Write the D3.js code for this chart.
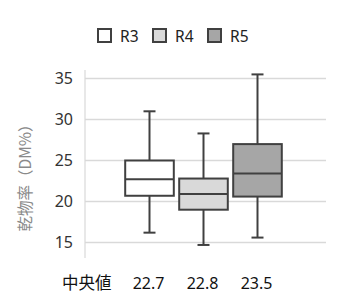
<!DOCTYPE html>
<html>
<head>
<meta charset="utf-8">
<script src="https://cdn.jsdelivr.net/npm/d3@7"></script>
<style>
  body { margin: 0; background: #fff; }
  text { font-family: "Noto Sans", "Noto Sans CJK JP", sans-serif; }
</style>
</head>
<body>
<svg width="341" height="308"></svg>
<script>
// Box plot data
var groups   = ["R3", "R4", "R5"];
var whiskLo  = [16.2, 14.7, 15.6];
var q1       = [20.7, 19.0, 20.6];
var medians  = [22.7, 20.9, 23.4];
var q3       = [25.0, 22.8, 27.0];
var whiskHi  = [31.0, 28.3, 35.5];
var fills    = ["#ffffff", "#d9d9d9", "#a6a6a6"];
var yTicks   = [15, 20, 25, 30, 35];
var medianLabels = ["22.7", "22.8", "23.5"];

var svg = d3.select("svg");

var y = d3.scaleLinear().domain([15, 35]).range([242.5, 78.5]);
var x = d3.scaleBand().domain(groups).range([122.5, 284.5]).padding(0);
var boxW = x.bandwidth() * 0.9;

// gridlines
svg.append("g")
  .selectAll("line")
  .data(yTicks)
  .enter().append("line")
    .attr("x1", 85).attr("x2", 326)
    .attr("y1", function(d) { return y(d); })
    .attr("y2", function(d) { return y(d); })
    .attr("stroke", "#d9d9d9")
    .attr("stroke-width", 1.5);

// vertical axis line
svg.append("line")
  .attr("x1", 85).attr("x2", 85)
  .attr("y1", 70).attr("y2", 258)
  .attr("stroke", "#d9d9d9")
  .attr("stroke-width", 1.2);

// tick labels via axis
var yAxis = svg.append("g")
  .attr("transform", "translate(73,0)")
  .call(d3.axisLeft(y).tickValues(yTicks).tickSize(0).tickPadding(0));
yAxis.select(".domain").remove();
yAxis.selectAll("text")
  .attr("font-size", 16)
  .attr("fill", "#333")
  .style("font-family", "'Noto Sans', sans-serif");

// y title
svg.append("text")
  .attr("transform", "translate(31,174) rotate(-90)")
  .attr("text-anchor", "middle")
  .attr("font-size", 15.5)
  .attr("fill", "#8a8a8a")
  .style("font-family", "'Noto Sans CJK JP', sans-serif")
  .text("乾物率（DM%）");

var stroke = "#404040";
var box = svg.append("g").selectAll("g")
  .data(groups)
  .enter().append("g");

// whiskers
box.append("line")
  .attr("x1", function(d) { return x(d) + x.bandwidth() / 2; })
  .attr("x2", function(d) { return x(d) + x.bandwidth() / 2; })
  .attr("y1", function(d, i) { return y(whiskHi[i]); })
  .attr("y2", function(d, i) { return y(whiskLo[i]); })
  .attr("stroke", stroke).attr("stroke-width", 2);

[whiskHi, whiskLo].forEach(function(arr) {
  box.append("line")
    .attr("x1", function(d) { return x(d) + x.bandwidth() / 2 - 6; })
    .attr("x2", function(d) { return x(d) + x.bandwidth() / 2 + 6; })
    .attr("y1", function(d, i) { return y(arr[i]); })
    .attr("y2", function(d, i) { return y(arr[i]); })
    .attr("stroke", stroke).attr("stroke-width", 2);
});

box.append("rect")
  .attr("x", function(d) { return x(d) + (x.bandwidth() - boxW) / 2; })
  .attr("width", boxW)
  .attr("y", function(d, i) { return y(q3[i]); })
  .attr("height", function(d, i) { return y(q1[i]) - y(q3[i]); })
  .attr("fill", function(d, i) { return fills[i]; })
  .attr("stroke", stroke).attr("stroke-width", 2);

box.append("line")
  .attr("x1", function(d) { return x(d) + (x.bandwidth() - boxW) / 2; })
  .attr("x2", function(d) { return x(d) + (x.bandwidth() + boxW) / 2; })
  .attr("y1", function(d, i) { return y(medians[i]); })
  .attr("y2", function(d, i) { return y(medians[i]); })
  .attr("stroke", stroke).attr("stroke-width", 2);

// legend
var legend = svg.append("g").selectAll("g")
  .data(groups)
  .enter().append("g")
  .attr("transform", function(d, i) { return "translate(" + (98 + i * 55) + ",29)"; });
legend.append("rect")
  .attr("width", 13).attr("height", 13)
  .attr("fill", function(d, i) { return fills[i]; })
  .attr("stroke", stroke).attr("stroke-width", 2);
legend.append("text")
  .attr("x", 22).attr("y", 12.5)
  .attr("font-size", 15.5)
  .attr("fill", "#222")
  .text(function(d) { return d; });

// median row
svg.append("text")
  .attr("x", 62).attr("y", 289)
  .attr("font-size", 16.5)
  .attr("fill", "#111")
  .style("font-family", "'Noto Sans CJK JP', sans-serif")
  .text("中央値");
svg.append("g").selectAll("text")
  .data(groups)
  .enter().append("text")
  .attr("x", function(d) { return x(d) + x.bandwidth() / 2 - 1; })
  .attr("y", 289)
  .attr("text-anchor", "middle")
  .attr("font-size", 16)
  .attr("fill", "#111")
  .text(function(d, i) { return medianLabels[i]; });
</script>
</body>
</html>
